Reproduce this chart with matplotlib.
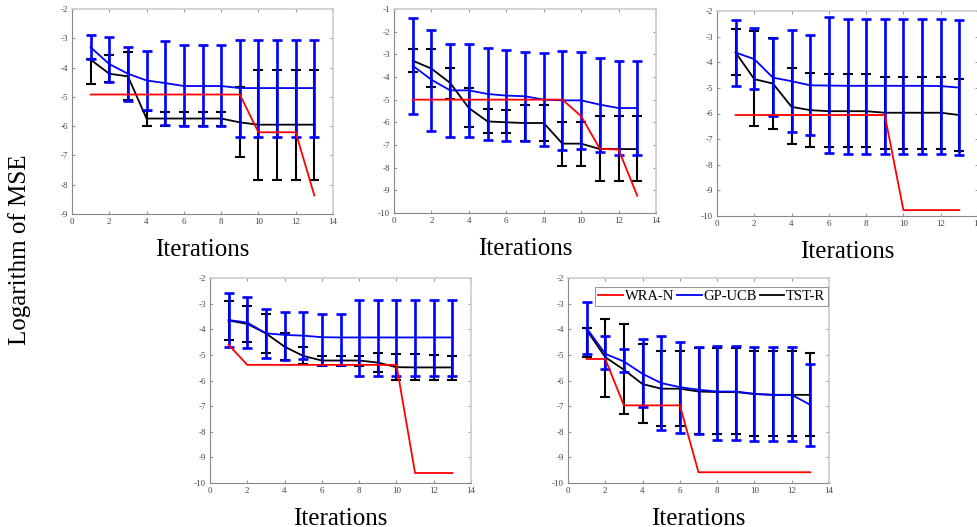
import matplotlib
matplotlib.use('Agg')
import matplotlib.pyplot as plt
import numpy as np

plt.rcParams['axes.unicode_minus'] = False

# iterations
iters = list(range(1, 14))

# panel A (top left)
wra_a = [-4.92]*9 + [-6.21, -6.21, -6.21, -8.37]
gp_a = [-3.31, -3.88, -4.21, -4.44, -4.53, -4.63, -4.63, -4.63, -4.70, -4.70, -4.70, -4.70, -4.70]
gp_a_hi = [-2.88, -2.96, -3.30, -3.45, -3.10, -3.22, -3.24, -3.24, -3.05, -3.05, -3.05, -3.05, -3.05]
gp_a_lo = [-3.70, -4.49, -5.15, -5.44, -5.95, -6.01, -6.01, -6.01, -6.37, -6.37, -6.37, -6.37, -6.37]
tst_a = [-3.73, -4.21, -4.30, -5.74, -5.74, -5.74, -5.74, -5.74, -5.87, -5.95, -5.95, -5.95, -5.95]
tst_a_hi = [-3.70, -3.56, -3.48, -5.49, -5.52, -5.52, -5.52, -5.52, -4.66, -4.07, -4.07, -4.07, -4.07]
tst_a_lo = [-4.55, -4.49, -5.10, -6.01, -6.01, -6.01, -6.01, -6.01, -7.05, -7.83, -7.83, -7.83, -7.83]

# panel B (top middle)
wra_b = [-5.0]*9 + [-5.73, -7.17, -7.2, -9.24]
gp_b = [-3.50, -4.12, -4.59, -4.59, -4.75, -4.82, -4.85, -5.00, -5.03, -5.03, -5.22, -5.37, -5.37]
gp_b_hi = [-1.40, -1.94, -2.53, -2.53, -2.72, -2.82, -2.90, -2.94, -2.87, -2.90, -3.16, -3.28, -3.28]
gp_b_lo = [-5.62, -6.37, -6.66, -6.66, -6.76, -6.81, -6.84, -7.03, -7.21, -7.16, -7.32, -7.44, -7.44]
tst_b = [-3.28, -3.63, -4.26, -5.37, -5.96, -6.00, -6.03, -6.03, -6.94, -6.94, -7.18, -7.18, -7.18]
tst_b_hi = [-2.75, -2.75, -3.60, -4.49, -5.40, -5.47, -5.22, -5.22, -5.99, -5.99, -5.74, -5.74, -5.74]
tst_b_lo = [-3.79, -4.46, -4.97, -6.20, -6.47, -6.47, -6.84, -6.84, -7.94, -7.94, -8.60, -8.60, -8.60]

# panel C (top right)
wra_c = [-6.06]*9 + [-9.77]*4
gp_c = [-3.62, -3.88, -4.60, -4.74, -4.90, -4.91, -4.92, -4.92, -4.92, -4.92, -4.92, -4.93, -4.99]
gp_c_hi = [-2.34, -2.66, -3.05, -2.75, -2.95, -2.23, -2.30, -2.30, -2.30, -2.30, -2.30, -2.30, -2.34]
gp_c_lo = [-4.92, -5.05, -6.09, -6.74, -6.82, -7.56, -7.58, -7.58, -7.58, -7.58, -7.58, -7.58, -7.62]
tst_c = [-3.62, -4.66, -4.83, -5.74, -5.87, -5.91, -5.91, -5.91, -5.97, -5.97, -5.97, -5.97, -6.06]
tst_c_hi = [-2.69, -2.79, -3.04, -4.22, -4.42, -4.47, -4.47, -4.47, -4.57, -4.57, -4.57, -4.57, -4.64]
tst_c_lo = [-4.51, -6.49, -6.60, -7.19, -7.30, -7.32, -7.32, -7.32, -7.39, -7.39, -7.39, -7.39, -7.47]

# panel D (bottom left)
wra_d = [-4.61] + [-5.39]*9 + [-9.61]*3
gp_d = [-3.64, -3.74, -4.16, -4.22, -4.25, -4.31, -4.32, -4.32, -4.32, -4.32, -4.32, -4.32, -4.32]
gp_d_hi = [-2.60, -2.73, -3.22, -3.31, -3.34, -3.40, -3.42, -2.86, -2.86, -2.86, -2.86, -2.86, -2.86]
gp_d_lo = [-4.68, -4.74, -5.13, -5.19, -5.17, -5.40, -5.39, -5.82, -5.82, -5.82, -5.82, -5.82, -5.82]
tst_d = [-3.66, -3.79, -4.16, -4.68, -5.04, -5.22, -5.22, -5.22, -5.30, -5.48, -5.49, -5.49, -5.49]
tst_d_hi = [-2.88, -3.08, -3.40, -4.13, -4.68, -5.04, -5.04, -5.04, -4.94, -4.96, -4.96, -5.00, -5.03]
tst_d_lo = [-4.42, -4.48, -4.91, -5.19, -5.36, -5.43, -5.43, -5.43, -5.65, -5.97, -5.97, -5.97, -5.97]

# panel E (bottom right)
wra_e = [-5.16, -5.16] + [-6.97]*4 + [-9.58]*7
gp_e = [-3.96, -4.96, -5.26, -5.74, -6.10, -6.26, -6.36, -6.43, -6.43, -6.52, -6.56, -6.56, -6.95]
gp_e_hi = [-2.95, -4.28, -4.78, -4.38, -4.25, -4.48, -4.68, -4.64, -4.64, -4.70, -4.70, -4.70, -5.35]
gp_e_lo = [-4.96, -5.56, -5.68, -7.04, -7.95, -8.05, -8.09, -8.34, -8.34, -8.38, -8.38, -8.38, -8.55]
tst_e = [-4.03, -5.09, -5.58, -6.14, -6.32, -6.32, -6.43, -6.45, -6.45, -6.53, -6.56, -6.56, -6.56]
tst_e_hi = [-3.96, -3.61, -3.79, -4.56, -4.84, -4.84, -4.74, -4.74, -4.74, -4.84, -4.84, -4.84, -4.92]
tst_e_lo = [-5.10, -6.64, -7.31, -7.65, -7.78, -7.78, -8.09, -8.09, -8.09, -8.18, -8.18, -8.18, -8.18]

panels = [
    (wra_a, gp_a, gp_a_lo, gp_a_hi, tst_a, tst_a_lo, tst_a_hi, (-9, -2)),
    (wra_b, gp_b, gp_b_lo, gp_b_hi, tst_b, tst_b_lo, tst_b_hi, (-10, -1)),
    (wra_c, gp_c, gp_c_lo, gp_c_hi, tst_c, tst_c_lo, tst_c_hi, (-10, -2)),
    (wra_d, gp_d, gp_d_lo, gp_d_hi, tst_d, tst_d_lo, tst_d_hi, (-10, -2)),
    (wra_e, gp_e, gp_e_lo, gp_e_hi, tst_e, tst_e_lo, tst_e_hi, (-10, -2)),
]

# axes boxes in pixels: left, top, right, bottom
W, H = 977, 527
boxes = [(72, 9, 333, 214), (394, 9, 656, 213), (717, 11, 978, 216),
         (210, 278, 471, 483), (568, 278, 829, 483)]

serif = ['Liberation Serif', 'DejaVu Serif']
fig = plt.figure(figsize=(W/100, H/100), dpi=100)

for (wra, gp, gp_lo, gp_hi, tst, tst_lo, tst_hi, ylim), (l, t, r, b) in zip(panels, boxes):
    ax = fig.add_axes([l/W, 1-b/H, (r-l)/W, (b-t)/H])
    x = np.array(iters)
    tst = np.array(tst); gp = np.array(gp)
    eb_t = ax.errorbar(x, tst, yerr=[tst-np.array(tst_lo), np.array(tst_hi)-tst], color='black',
                       lw=1.3, elinewidth=1.5, capsize=3.6, capthick=1.5, zorder=2)
    eb_g = ax.errorbar(x, gp, yerr=[gp-np.array(gp_lo), np.array(gp_hi)-gp], color='#0000ff',
                       lw=1.3, elinewidth=1.9, capsize=3.6, capthick=1.9, zorder=3)
    ln_w, = ax.plot(x, wra, color='#ff0000', lw=1.3, zorder=4)
    ax.set_xlim(0, 14)
    ax.set_ylim(*ylim)
    ax.set_xticks(range(0, 15, 2))
    ax.set_yticks(range(ylim[0], ylim[1]+1))
    ax.tick_params(direction='in', length=2, width=0.8, color='#999999', labelsize=6.5,
                   labelcolor='#444444', top=True, right=True, pad=3)
    for lab in ax.get_xticklabels() + ax.get_yticklabels():
        lab.set_family(serif)
    for s in ['left', 'bottom']:
        ax.spines[s].set_color('#888888')
    for s in ['top', 'right']:
        ax.spines[s].set_color('#cccccc')
        ax.spines[s].set_linewidth(1.2)
    ax.set_xlabel('Iterations', family=serif, fontsize=18, labelpad=9)

leg = ax.legend([ln_w, eb_g[0], eb_t[0]], ['WRA-N', 'GP-UCB', 'TST-R'], ncol=3, loc='upper right',
                bbox_to_anchor=(0.995, 0.955), borderaxespad=0, fancybox=False,
                edgecolor='#999999', prop={'family': serif, 'size': 10.5},
                handlelength=1.7, handletextpad=0.1, columnspacing=0.2,
                borderpad=0.2, framealpha=1)
leg.get_frame().set_linewidth(0.8)

fig.text(20/W, 1-250/H, 'Logarithm of MSE', rotation=90, ha='center', va='center',
         family=serif, fontsize=18)

fig.savefig('out.png', dpi=100)
